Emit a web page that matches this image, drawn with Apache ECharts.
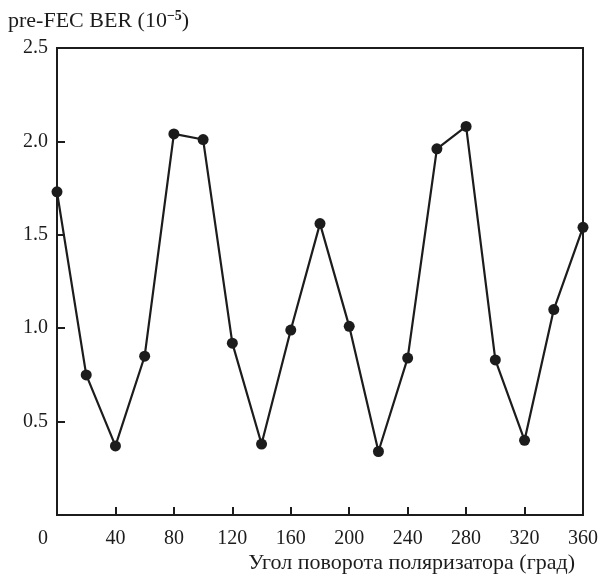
<!DOCTYPE html>
<html>
<head>
<meta charset="utf-8">
<script src="https://cdn.jsdelivr.net/npm/echarts@6/dist/echarts.min.js"></script>
<style>
  html, body { margin: 0; padding: 0; background: #fff; }
  #main { width: 601px; height: 577px; }
</style>
</head>
<body>
<div id="main"></div>
<script>
// данные с графика
var angles = [0, 20, 40, 60, 80, 100, 120, 140, 160, 180, 200, 220, 240, 260, 280, 300, 320, 340, 360];
var ber = [1.73, 0.75, 0.37, 0.85, 2.04, 2.01, 0.92, 0.38, 0.99, 1.56, 1.01, 0.34, 0.84, 1.96, 2.08, 0.83, 0.40, 1.10, 1.54];
var yTicks = [0.5, 1.0, 1.5, 2.0, 2.5];
var xName = 'Угол поворота поляризатора (град)';

var myChart = echarts.init(document.getElementById('main'));
var ink = '#1c1c1c';
var font = 'Liberation Serif';

var points = angles.map(function (a, i) { return [a, ber[i]]; });

option = {
    backgroundColor: '#fff',
    animation: false,
    textStyle: { fontFamily: font, color: ink },
    title: {
        left: 3,
        top: 4,
        text: '{a|pre-FEC BER (10}{s|−5}{a|)}',
        textStyle: {
            rich: {
                a: { fontFamily: font, fontSize: 22, color: ink, fontWeight: 'normal' },
                s: { fontFamily: font, fontSize: 14, color: ink, padding: [0, 0, 10, 0] }
            }
        }
    },
    grid: {
        left: 57, right: 16, top: 48, bottom: 62,
        show: true, borderColor: ink, borderWidth: 2
    },
    xAxis: {
        type: 'value',
        min: 0, max: 360, interval: 40,
        name: xName,
        nameLocation: 'end',
        nameGap: 0,
        nameTextStyle: {
            fontFamily: font, fontSize: 22, color: ink,
            align: 'right', verticalAlign: 'top',
            padding: [37, 8, 0, 0]
        },
        axisLine: { lineStyle: { color: ink, width: 2 } },
        axisTick: { inside: true, length: 8, lineStyle: { color: ink, width: 2 } },
        axisLabel: {
            fontFamily: font, fontSize: 20, color: ink, margin: 14,
            formatter: function (v) { return v === 0 ? '{z|0}' : String(v); },
            rich: { z: { fontFamily: font, fontSize: 20, color: ink, padding: [0, 28, 0, 0] } }
        },
        splitLine: { show: false }
    },
    yAxis: {
        type: 'value',
        min: 0, max: 2.5, interval: 0.5,
        axisLine: { show: true, lineStyle: { color: ink, width: 2 } },
        axisTick: { inside: true, length: 8, lineStyle: { color: ink, width: 2 } },
        axisLabel: {
            fontFamily: font, fontSize: 20, color: ink, margin: 9,
            formatter: function (v) {
                return yTicks.indexOf(+v.toFixed(1)) >= 0 ? v.toFixed(1) : '';
            }
        },
        splitLine: { show: false }
    },
    series: [{
        type: 'line',
        data: points,
        symbol: 'circle',
        symbolSize: 11,
        clip: false,
        lineStyle: { color: ink, width: 2.2 },
        itemStyle: { color: ink }
    }]
};

myChart.setOption(option);
</script>
</body>
</html>
